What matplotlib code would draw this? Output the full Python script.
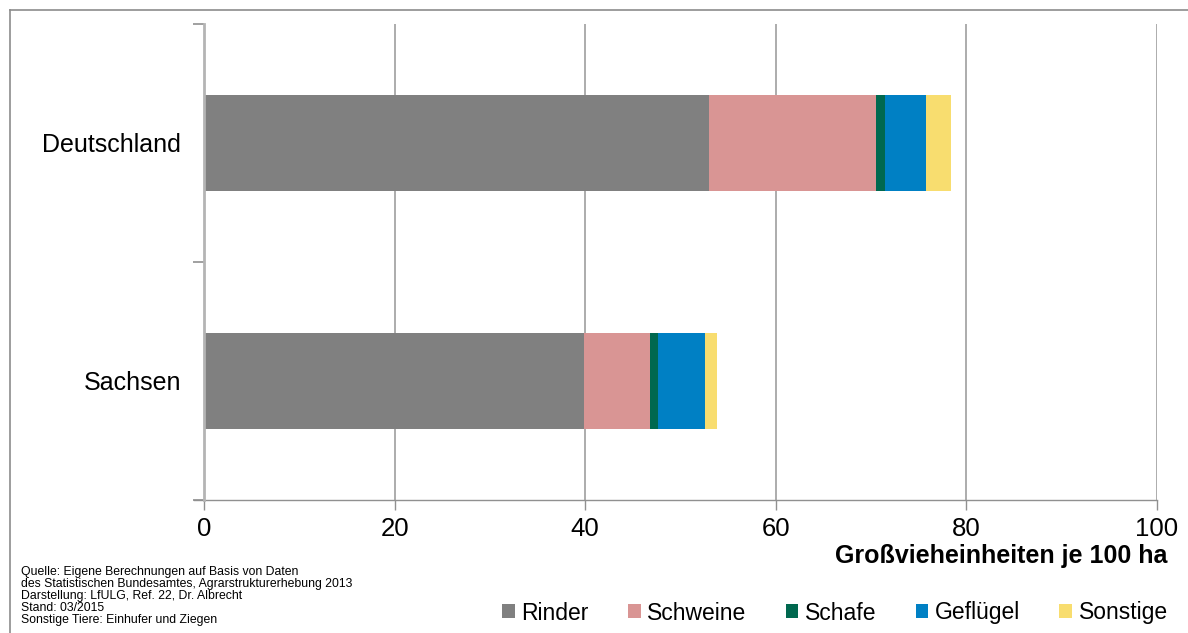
import matplotlib
matplotlib.use("Agg")
import matplotlib.pyplot as plt
from matplotlib.patches import Patch
from matplotlib.lines import Line2D

plt.rcParams['font.family'] = ['Liberation Sans', 'DejaVu Sans']

regions = ["Deutschland", "Sachsen"]
species = ["Rinder", "Schweine", "Schafe", "Geflügel", "Sonstige"]
rinder = [53.0, 39.9]
schweine = [17.5, 6.9]
schafe = [1.0, 0.8]
gefluegel = [4.3, 5.0]
sonstige = [2.6, 1.2]
colors = ["#808080", "#d99594", "#00684f", "#0080c4", "#f8dd6f"]
x_ticks = [0, 20, 40, 60, 80, 100]
x_title = "Großvieheinheiten je 100 ha"
source_lines = [
    "Quelle: Eigene Berechnungen auf Basis von Daten",
    "des Statistischen Bundesamtes, Agrarstrukturerhebung 2013",
    "Darstellung: LfULG, Ref. 22, Dr. Albrecht",
    "Stand: 03/2015",
    "Sonstige Tiere: Einhufer und Ziegen",
]

W, H = 1188, 633
fig = plt.figure(figsize=(W / 100, H / 100), dpi=100)
ax = fig.add_axes([204 / W, 1 - 500 / H, (1157 - 204) / W, (500 - 24) / H])

ypos = [1.5, 0.5]
series = [rinder, schweine, schafe, gefluegel, sonstige]
left = [0.0, 0.0]
for vals, col, name in zip(series, colors, species):
    ax.barh(ypos, vals, left=left, height=0.4, color=col, label=name, zorder=3)
    left = [l + v for l, v in zip(left, vals)]

ax.set_xlim(0, 100)
ax.set_ylim(0, 2)
ax.set_xticks(x_ticks)
ax.set_xticklabels([str(t) for t in x_ticks], fontsize=18.5)
ax.set_yticks([0, 1, 2])
ax.set_yticklabels([])
ax.set_yticks(ypos, minor=True)
ax.set_yticklabels(regions, minor=True, fontsize=18)
ax.tick_params(axis='y', which='minor', length=0, pad=16.5)
ax.tick_params(axis='y', which='major', length=8, width=1.2, color="#909090")
ax.tick_params(axis='x', length=7, width=1.0, color="#909090", pad=5)

for t in x_ticks[1:]:
    ax.axvline(t, color="#a6a6a6", lw=1.3, zorder=1)

for s in ["top", "right"]:
    ax.spines[s].set_visible(False)
ax.spines["left"].set_color("#b4b4b4")
ax.spines["left"].set_linewidth(2.0)
ax.spines["left"].set_zorder(4)
ax.spines["bottom"].set_color("#909090")
ax.spines["bottom"].set_linewidth(1.0)
ax.spines["bottom"].set_bounds(-1.0, 100)
ax.spines["bottom"].set_clip_on(False)

fig.text(1167 / W, 1 - 556 / H, x_title, ha="right", va="center",
         fontsize=18, fontweight="bold")

for i, line in enumerate(source_lines):
    fig.text(21 / W, 1 - (572 + 12 * i) / H, line, ha="left", va="center",
             fontsize=8.8)

handles = [Patch(facecolor=c, edgecolor="none") for c in colors]
fig.legend(handles, species, loc="center right", bbox_to_anchor=(1177 / W, 1 - 613 / H),
           ncol=5, frameon=False, fontsize=16.5, handlelength=0.55, handleheight=0.55,
           handletextpad=0.3, columnspacing=1.7, borderaxespad=0)

# outer frame
fig.add_artist(Line2D([10 / W, 1.0], [1 - 10 / H, 1 - 10 / H], transform=fig.transFigure,
                      color="#8c8c8c", lw=1.2))
fig.add_artist(Line2D([10 / W, 10 / W], [1 - 10 / H, 0.0], transform=fig.transFigure,
                      color="#8c8c8c", lw=1.2))

fig.savefig("out.png", dpi=100)
